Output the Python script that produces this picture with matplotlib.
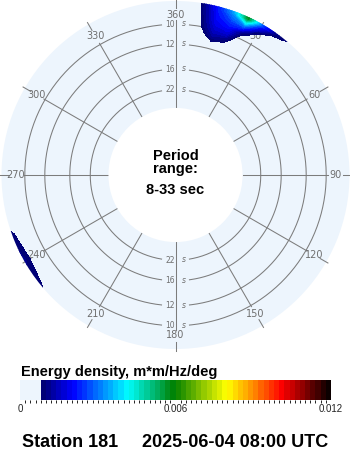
import numpy as np
import matplotlib.pyplot as plt
from matplotlib.colors import LinearSegmentedColormap, ListedColormap, BoundaryNorm
from matplotlib.cm import ScalarMappable

# spectrum rows: wave period in seconds
periods = [7.5, 8, 8.5, 9, 9.5, 10, 10.5, 11, 12]

# north-east swell, energy density (m*m/Hz/deg); one row per period
ne_dirs = [5, 10, 15, 20, 25, 30, 35, 40, 45, 50]
ne_energy = [
    [0, 0.0012, 0.0024, 0.0045, 0.0070, 0.0045, 0.0026, 0.0014, 0.0006, 0],
    [0, 0.0012, 0.0024, 0.0040, 0.0064, 0.0038, 0.0019, 0.0011, 0.0004, 0],
    [0, 0.0011, 0.0023, 0.0033, 0.0056, 0.0026, 0.0010, 0.0007, 0, 0],
    [0, 0.0010, 0.0021, 0.0026, 0.0030, 0.0009, 0.0003, 0.0002, 0, 0],
    [0, 0.0009, 0.0019, 0.0021, 0.0011, 0.0004, 0, 0, 0, 0],
    [0, 0.0008, 0.0016, 0.0017, 0.0005, 0.0002, 0, 0, 0, 0],
    [0, 0.0006, 0.0013, 0.0011, 0.0003, 0, 0, 0, 0, 0],
    [0, 0.0003, 0.0009, 0.0007, 0.0002, 0, 0, 0, 0, 0],
    [0, 0, 0.0004, 0.0003, 0, 0, 0, 0, 0, 0],
]

# south-west swell
sw_dirs = [220, 225, 230, 235, 240, 245, 250, 255, 260]
sw_energy = [
    [0, 0.0007, 0.0010, 0.0011, 0.0012, 0.0012, 0.0011, 0.0008, 0],
    [0, 0.0006, 0.0010, 0.0010, 0.0011, 0.0011, 0.0010, 0.0007, 0],
    [0, 0.0004, 0.00075, 0.0009, 0.0010, 0.00095, 0.0008, 0.0005, 0],
    [0, 0, 0.0003, 0.0005, 0.0006, 0.0005, 0.0004, 0, 0],
    [0, 0, 0, 0, 0, 0, 0, 0, 0],
    [0, 0, 0, 0, 0, 0, 0, 0, 0],
    [0, 0, 0, 0, 0, 0, 0, 0, 0],
    [0, 0, 0, 0, 0, 0, 0, 0, 0],
    [0, 0, 0, 0, 0, 0, 0, 0, 0],
]

ring_periods = [10, 12, 16, 22]
compass_angles = [0, 30, 60, 90, 120, 150, 180, 210, 240, 270, 300, 330]
compass_labels = ["360", "30", "60", "90", "120", "150", "180", "210", "240", "270", "300", "330"]
period_min, period_max = 8, 33
cbar_ticks = [0, 0.006, 0.012]
cbar_ticklabels = ["0", "0.006", "0.012"]
energy_floor = 0.0008
energy_top = 0.012
station = "Station 181"
stamp = "2025-06-04 08:00 UTC"

LIGHT = "#edf5fd"
GRID = "#7c7c7c"
LABEL = "#6e6e6e"

# radial axis is frequency; pixel radius = 30.7 + 1200 * f
PX_PER_HZ = 1200.0
F_ORIGIN = -30.7 / PX_PER_HZ
R_OUT = 174.0


def f_at(px):
    return px / PX_PER_HZ + F_ORIGIN


def px_at(f):
    return (f - F_ORIGIN) * PX_PER_HZ


# colour scale: pale below the floor, then navy -> blue -> cyan -> green -> yellow -> red -> black
grad = LinearSegmentedColormap.from_list("wave", [
    (0.0, (0.0, 0.0, 0.42)),
    (0.11, (0.0, 0.0, 1.0)),
    (0.30, (0.0, 1.0, 1.0)),
    (0.46, (0.0, 0.5, 0.0)),
    (0.64, (1.0, 1.0, 0.0)),
    (0.72, (1.0, 0.62, 0.0)),
    (0.83, (1.0, 0.0, 0.0)),
    (1.0, (0.0, 0.0, 0.0)),
])
levels = np.round(np.arange(0, energy_top + 1e-9, 0.0002), 6)
band_colors = []
for lo, hi in zip(levels[:-1], levels[1:]):
    mid = (lo + hi) / 2
    if mid < energy_floor:
        band_colors.append(LIGHT)
    else:
        band_colors.append(grad((mid - energy_floor) / (energy_top - energy_floor)))
cmap = ListedColormap(band_colors)
norm = BoundaryNorm(levels, cmap.N)

fig = plt.figure(figsize=(3.5, 4.5), dpi=100)
cx, cy = 175.5, 175.0
ax = fig.add_axes([(cx - R_OUT) / 350, (450 - cy - R_OUT) / 450, 2 * R_OUT / 350, 2 * R_OUT / 450],
                  projection="polar")
ax.set_theta_zero_location("N")
ax.set_theta_direction(-1)
ax.set_facecolor(LIGHT)
for sp in ax.spines.values():
    sp.set_visible(False)
    sp.set_linewidth(0)
    sp.set_edgecolor("none")
ax.grid(False)
ax.set_xticks([])
ax.set_yticks([])

freqs = 1.0 / np.array(periods)
draw_levels = levels[levels >= energy_floor - 1e-9]
for dirs, energy in [(ne_dirs, ne_energy), (sw_dirs, sw_energy)]:
    th, fr = np.meshgrid(np.deg2rad(dirs), freqs)
    ax.contourf(th, fr, np.array(energy), levels=draw_levels, cmap=cmap, norm=norm, zorder=3)

# period rings, broken where they are labelled at north and south
for p in ring_periods:
    f = 1.0 / p
    gap = 14.0 / px_at(f)
    for a0, a1 in [(gap, np.pi - gap), (np.pi + gap, 2 * np.pi - gap)]:
        t = np.linspace(a0, a1, 200)
        ax.plot(t, np.full_like(t, f), color=GRID, lw=0.75, zorder=2)
    for th in (0, np.pi):
        ax.annotate(str(p), xy=(th, f), xytext=(-0.6, 0), textcoords="offset points",
                    ha="right", va="center", fontsize=5.5, color=LABEL, zorder=2.5)
        ax.annotate("s", xy=(th, f), xytext=(6.1, 0.3), textcoords="offset points",
                    ha="center", va="center", fontsize=5.5, style="italic", color=LABEL, zorder=2.5)

# direction spokes, labels and outer ticks
for a, lab in zip(compass_angles, compass_labels):
    th = np.deg2rad(a)
    end = 155 if a in (0, 180) else 152
    ax.plot([th, th], [1.0 / period_max, f_at(end)], color=GRID, lw=0.75, zorder=2)
    ax.plot([th, th], [f_at(167), f_at(176)], color=GRID, lw=0.75, zorder=2, clip_on=False)
    ax.text(th, f_at(160), lab, ha="center", va="center", fontsize=7, color=LABEL, zorder=2.5)

ax.set_rorigin(F_ORIGIN)
ax.set_rlim(1.0 / period_max, f_at(R_OUT))

bold = dict(family=["Liberation Sans", "DejaVu Sans"], weight="bold", color="black")
fig.text(cx / 350, 1 - 159.5 / 450, "Period", ha="center", va="baseline", fontsize=10.5, **bold)
fig.text(cx / 350, 1 - 172.5 / 450, "range:", ha="center", va="baseline", fontsize=10.5, **bold)
fig.text(cx / 350, 1 - 194 / 450, f"{period_min}-{period_max} sec", ha="center", va="baseline",
         fontsize=10.5, **bold)

fig.text(21 / 350, 1 - 376 / 450, "Energy density, m*m/Hz/deg", ha="left", va="baseline",
         fontsize=10.5, **bold)

cax = fig.add_axes([20 / 350, 50 / 450, 311 / 350, 20 / 450])
cb = fig.colorbar(ScalarMappable(norm=norm, cmap=cmap), cax=cax, orientation="horizontal",
                  ticks=cbar_ticks)
cb.set_ticklabels(cbar_ticklabels)
cb.outline.set_visible(False)
cax.tick_params(length=0, pad=3, labelsize=7, labelcolor="#222222")
for t in cax.get_xticklabels():
    t.set_family(["Liberation Sans", "DejaVu Sans"])

fig.text(22 / 350, 1 - 447 / 450, station, ha="left", va="baseline", fontsize=13, **bold)
fig.text(328 / 350, 1 - 447 / 450, stamp, ha="right", va="baseline", fontsize=13, **bold)

fig.savefig("out.png", dpi=100)
